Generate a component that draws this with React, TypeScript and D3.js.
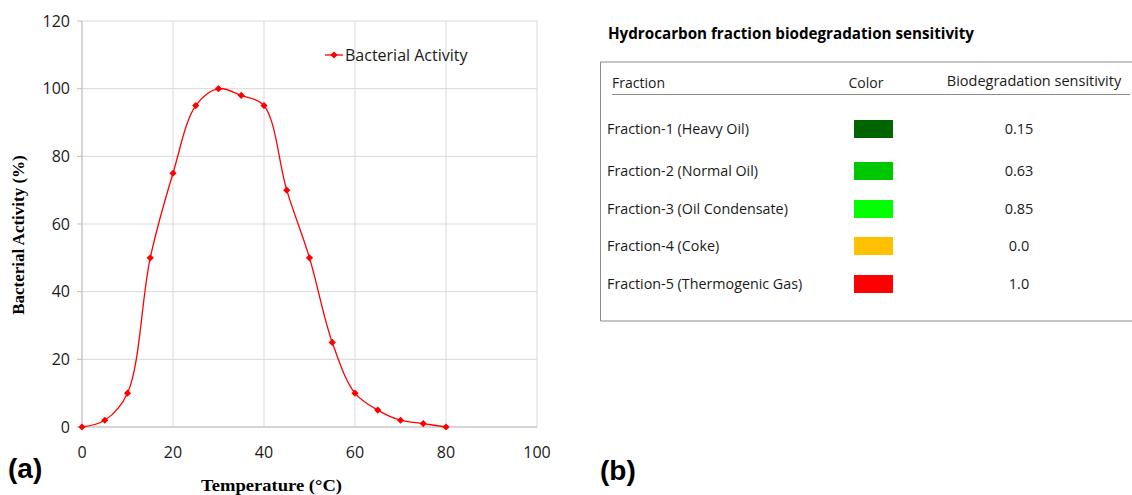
import React from "react";
import * as d3 from "d3";

const temperatures = [0, 5, 10, 15, 20, 25, 30, 35, 40, 45, 50, 55, 60, 65, 70, 75, 80];
const activity = [0, 2, 10, 50, 75, 95, 100, 98, 95, 70, 50, 25, 10, 5, 2, 1, 0];
const xTicks = [0, 20, 40, 60, 80, 100];
const yTicks = [0, 20, 40, 60, 80, 100, 120];

const fractions = [
  "Fraction-1 (Heavy Oil)",
  "Fraction-2 (Normal Oil)",
  "Fraction-3 (Oil Condensate)",
  "Fraction-4 (Coke)",
  "Fraction-5 (Thermogenic Gas)",
];
const fractionColors = ["#006400", "#00c800", "#00ff00", "#ffc000", "#ff0000"];
const sensitivities = ["0.15", "0.63", "0.85", "0.0", "1.0"];

const W = 1132;
const H = 495;
const plot = { left: 82, right: 537, top: 21, bottom: 427 };
const tickFont = "'Open Sans', 'Noto Sans', sans-serif";
const tableFont = "'Open Sans', 'Noto Sans', sans-serif";

export default function App() {
  const x = d3.scaleLinear().domain([0, 100]).range([plot.left, plot.right]);
  const y = d3.scaleLinear().domain([0, 120]).range([plot.bottom, plot.top]);
  const pts = temperatures.map((t, i) => [t, activity[i]] as [number, number]);
  const line = d3
    .line<[number, number]>()
    .x((d) => x(d[0]))
    .y((d) => y(d[1]))
    .curve(d3.curveCatmullRom.alpha(0.5));
  const marker = d3.symbol(d3.symbolSquare, 26)();
  const rowYs = [129, 171, 209, 246, 284];

  return (
    <svg
      width={W}
      height={H}
      style={{ position: "absolute", left: 0, top: 0, background: "#fff" }}
    >
      {/* grid */}
      {yTicks.map((t) => (
        <line key={"gy" + t} x1={plot.left} x2={plot.right} y1={y(t)} y2={y(t)} stroke="#d9d9d9" strokeWidth={1} />
      ))}
      {xTicks.map((t) => (
        <line key={"gx" + t} x1={x(t)} x2={x(t)} y1={plot.top} y2={plot.bottom} stroke="#d9d9d9" strokeWidth={1} />
      ))}
      {/* axes */}
      <line x1={plot.left} x2={plot.left} y1={plot.top} y2={plot.bottom} stroke="#bfbfbf" />
      <line x1={plot.left - 5} x2={plot.right} y1={plot.bottom} y2={plot.bottom} stroke="#bfbfbf" />
      {yTicks.map((t) => (
        <line key={"ty" + t} x1={plot.left - 5} x2={plot.left} y1={y(t)} y2={y(t)} stroke="#bfbfbf" />
      ))}
      {yTicks.map((t) => (
        <text key={"ly" + t} x={plot.left - 12} y={y(t)} dy="0.35em" textAnchor="end" fontFamily={tickFont} fontSize={16} fill="#1a1a1a">
          {t}
        </text>
      ))}
      {xTicks.map((t) => (
        <text key={"lx" + t} x={x(t)} y={452} dy="0.35em" textAnchor="middle" fontFamily={tickFont} fontSize={16} fill="#1a1a1a">
          {t}
        </text>
      ))}
      {/* series */}
      <path d={line(pts) || ""} fill="none" stroke="#ff0000" strokeWidth={1.3} />
      {pts.map((d, i) => (
        <path key={"m" + i} d={marker || ""} transform={`translate(${x(d[0])},${y(d[1])}) rotate(45)`} fill="#ff0000" />
      ))}
      {/* legend */}
      <line x1={325} x2={343} y1={55} y2={55} stroke="#ff0000" strokeWidth={1.3} />
      <path d={marker || ""} transform="translate(334,55) rotate(45)" fill="#ff0000" />
      <text x={345} y={55} dy="0.35em" fontFamily={tickFont} fontSize={16} fill="#1a1a1a">
        Bacterial Activity
      </text>
      {/* axis titles */}
      <text
        transform={`translate(18,235) rotate(-90)`}
        textAnchor="middle"
        dy="0.35em"
        fontFamily="'Liberation Serif', 'DejaVu Serif', serif"
        fontWeight="bold"
        fontSize={17}
        fill="#000"
      >
        Bacterial Activity (%)
      </text>
      <text x={201} y={491} textLength={141} lengthAdjust="spacingAndGlyphs" fontFamily="'Liberation Serif', 'DejaVu Serif', serif" fontWeight="bold" fontSize={17.5} fill="#000">
        Temperature (°C)
      </text>
      <text x={8} y={468} dy="0.35em" fontFamily="'Liberation Sans', Arial, sans-serif" fontWeight="bold" fontSize={28} fill="#000">
        (a)
      </text>

      {/* right panel */}
      <text x={608} y={34} dy="0.35em" fontFamily={tableFont} fontWeight="bold" fontSize={15.2} fill="#000">
        Hydrocarbon fraction biodegradation sensitivity
      </text>
      <path d={`M${W},62 H600.5 V321 H${W}`} fill="none" stroke="#8c8c8c" strokeWidth={1} />
      <text x={612} y={83} dy="0.35em" fontFamily={tableFont} fontSize={14} fill="#1a1a1a">Fraction</text>
      <text x={866} y={83} dy="0.35em" textAnchor="middle" fontFamily={tableFont} fontSize={14} fill="#1a1a1a">Color</text>
      <text x={1034} y={81} dy="0.35em" textAnchor="middle" fontFamily={tableFont} fontSize={14.5} fill="#1a1a1a">Biodegradation sensitivity</text>
      <line x1={612} x2={1130} y1={94.5} y2={94.5} stroke="#8c8c8c" strokeWidth={1} />
      {fractions.map((f, i) => (
        <g key={f}>
          <text x={607} y={rowYs[i]} dy="0.35em" fontFamily={tableFont} fontSize={14.3} fill="#1a1a1a">{f}</text>
          <rect x={854} y={rowYs[i] - 9} width={39} height={18} fill={fractionColors[i]} />
          <text x={1019} y={rowYs[i]} dy="0.35em" textAnchor="middle" fontFamily={tableFont} fontSize={14.5} fill="#1a1a1a">{sensitivities[i]}</text>
        </g>
      ))}
      <text x={600} y={470} dy="0.35em" fontFamily="'Liberation Sans', Arial, sans-serif" fontWeight="bold" fontSize={28} fill="#000">
        (b)
      </text>
    </svg>
  );
}
